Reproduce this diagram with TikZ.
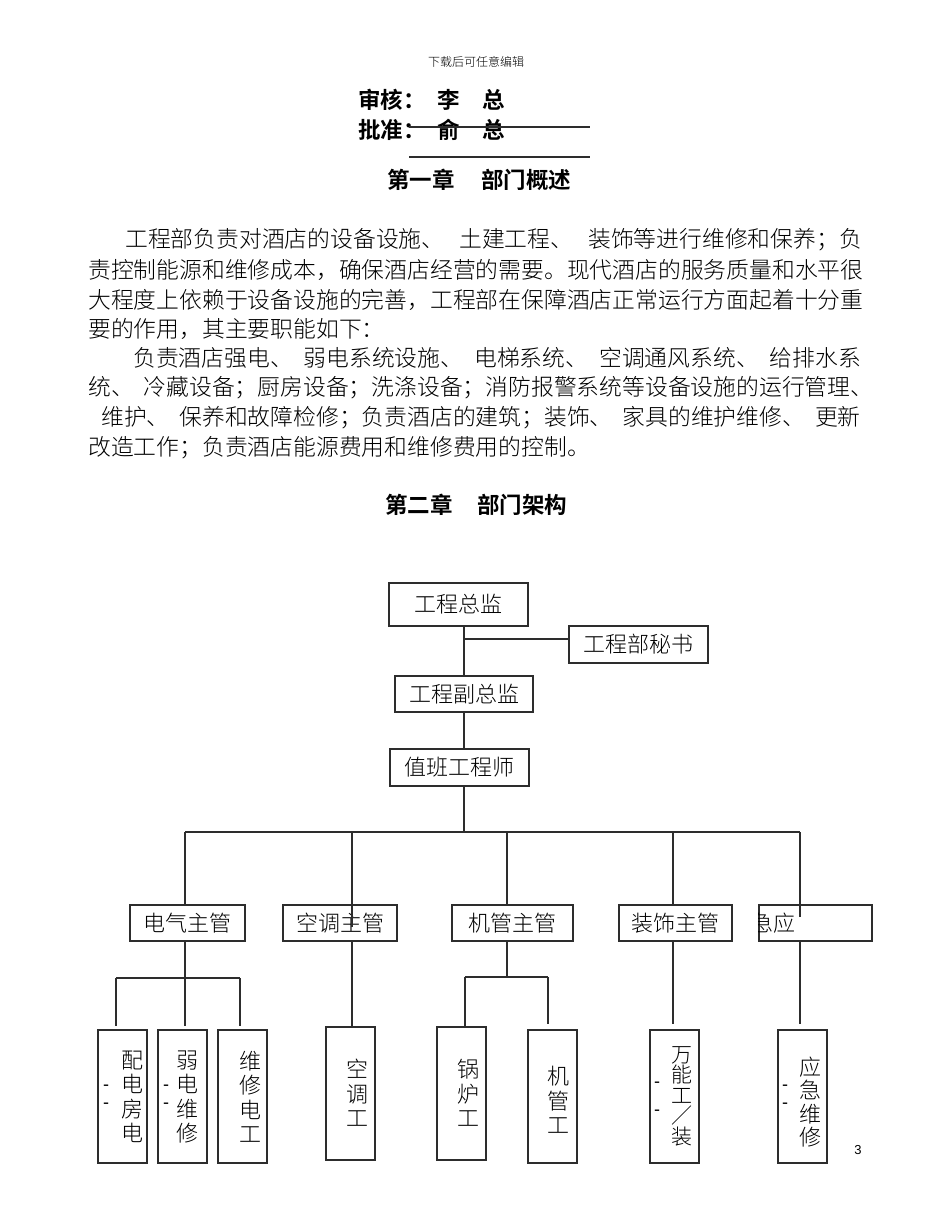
\documentclass[tikz,border=0pt]{standalone}
\usepackage{fontspec}
\setmainfont{Noto Sans CJK SC}[BoldFont={Noto Sans CJK SC Bold}]
\newfontfamily\lightcjk{Noto Sans CJK SC Light}
\newfontfamily\latinfont{Liberation Sans}
\usetikzlibrary{calc}
\newcommand\gapx[1]{\hspace*{#1pt}}
\definecolor{linec}{RGB}{45,45,45}
\begin{document}
\begin{tikzpicture}[x=1pt,y=-1pt,
  box/.style={draw=linec, line width=1.3pt, inner sep=0pt, font=\lightcjk\fontsize{22}{26}\selectfont},
  vbox/.style={draw=linec, line width=1.3pt, inner sep=0pt, minimum width=49pt, minimum height=133pt},
  vtext/.style={align=center, inner sep=0pt, font=\lightcjk\fontsize{22}{24.5}\selectfont},
  conn/.style={draw=linec, line width=1.3pt},
  body/.style={anchor=west, inner sep=0pt, font=\lightcjk\fontsize{22.8}{24}\selectfont},
  head/.style={inner sep=0pt, font=\bfseries\fontsize{22.5}{24}\selectfont},
  dashmark/.style={inner sep=0pt, font=\latinfont\fontsize{18}{18}\selectfont}]
\fill[white] (0,0) rectangle (950,1230);
\useasboundingbox (0,0) rectangle (950,1230);

% page header
\node[inner sep=0pt, font=\lightcjk\fontsize{12}{12}\selectfont] (hdr) at (476,62) {下载后可任意编辑};
\node[head, anchor=west] (sh1) at (358,100) {审核：};
\node[head] (sh2) at (449,100) {李};
\node[head] (sh3) at (494,100) {总};
\node[head, anchor=west] (pz1) at (358,130) {批准：};
\node[head] (pz2) at (449,130) {俞};
\node[head] (pz3) at (494,130) {总};
\coordinate (ls1) at (409,127); \coordinate (le1) at (590,127);
\coordinate (ls2) at (409,157); \coordinate (le2) at (590,157);
\draw[conn] (ls1) -- (le1);
\draw[conn] (ls2) -- (le2);
\node[head, anchor=west] (ch1a) at (387,180) {第一章};
\node[head, anchor=west] (ch1b) at (481,180) {部门概述};

% body text
\node[body] (p1) at (125,240) {工程部负责对酒店的设备设施、\gapx{15}土建工程、\gapx{15}装饰等进行维修和保养；负};
\node[body] (p2) at (88,270) {责控制能源和维修成本，确保酒店经营的需要。现代酒店的服务质量和水平很};
\node[body] (p3) at (88,300) {大程度上依赖于设备设施的完善，工程部在保障酒店正常运行方面起着十分重};
\node[body] (p4) at (88,329) {要的作用，其主要职能如下：};
\node[body] (p5) at (133,358) {负责酒店强电、\gapx{11}弱电系统设施、\gapx{11}电梯系统、\gapx{11}空调通风系统、\gapx{11}给排水系};
\node[body] (p6) at (88,388) {统、\gapx{10}冷藏设备；厨房设备；洗涤设备；消防报警系统等设备设施的运行管理、};
\node[body] (p7) at (101,418) {维护、\gapx{10}保养和故障检修；负责酒店的建筑；装饰、\gapx{10}家具的维护维修、\gapx{10}更新};
\node[body] (p8) at (88,448) {改造工作；负责酒店能源费用和维修费用的控制。};

\node[head, anchor=west] (ch2a) at (385,505) {第二章};
\node[head, anchor=west] (ch2b) at (477,505) {部门架构};

% org chart boxes
\node[box, minimum width=139pt, minimum height=43pt] (top) at (458.5,604.5) {工程总监};
\node[box, minimum width=139pt, minimum height=37pt] (sec) at (638.5,644.5) {工程部秘书};
\node[box, minimum width=138pt, minimum height=36pt] (vice) at (464,694) {工程副总监};
\node[box, minimum width=139pt, minimum height=37pt] (duty) at (459.5,767.5) {值班工程师};

\node[box, minimum width=115pt, minimum height=36pt] (m1) at (187.5,923) {电气主管};
\node[box, minimum width=114pt, minimum height=36pt] (m2) at (340,923) {空调主管};
\node[box, minimum width=121pt, minimum height=36pt] (m3) at (512.5,923) {机管主管};
\node[box, minimum width=113pt, minimum height=36pt] (m4) at (675.5,923) {装饰主管};
\node[box, minimum width=113pt, minimum height=36pt] (m5) at (815.5,923) {};
\begin{scope}
  \clip (m5.south west) rectangle (m5.north east);
  \node[inner sep=0pt, anchor=west, font=\lightcjk\fontsize{22}{26}\selectfont] (m5t) at (751,923) {急应};
\end{scope}

\node[vbox] (b1) at (122.5,1096.5) {};
\node[vbox] (b2) at (182.5,1096.5) {};
\node[vbox] (b3) at (242.5,1096.5) {};
\node[vbox] (b4) at (350.5,1093.5) {};
\node[vbox] (b5) at (461.5,1093.5) {};
\node[vbox] (b6) at (552.5,1096.5) {};
\node[vbox] (b7) at (674.5,1096.5) {};
\node[vbox] (b8) at (802.5,1096.5) {};

\node[vtext] (t1) at (132,1097) {配\\电\\房\\电};
\node[vtext] (t2) at (187,1097) {弱\\电\\维\\修};
\node[vtext] (t3) at (250,1097) {维\\修\\电\\工};
\node[vtext] (t4) at (357,1093) {空\\调\\工};
\node[vtext] (t5) at (468,1093) {锅\\炉\\工};
\node[vtext] (t6) at (558,1100) {机\\管\\工};
\node[vtext, font=\lightcjk\fontsize{21}{20.5}\selectfont] (t7) at (682,1096) {万\\能\\工\\／\\装};
\node[vtext, font=\lightcjk\fontsize{22}{23.3}\selectfont] (t8) at (810,1102) {应\\急\\维\\修};

\node[dashmark] (k1) at (106,1088) {-};
\node[dashmark] (k2) at (106,1106) {-};
\node[dashmark] (k3) at (166,1088) {-};
\node[dashmark] (k4) at (166,1106) {-};
\node[dashmark] (k5) at (657,1085) {-};
\node[dashmark] (k6) at (657,1113) {-};
\node[dashmark] (k7) at (785,1088) {-};
\node[dashmark] (k8) at (785,1106) {-};

\node[inner sep=0pt, font=\latinfont\fontsize{13}{13}\selectfont] (pg) at (858,1150) {3};

% connectors
\draw[conn] (vice.north |- top.south) -- (vice.north);
\coordinate (jsec) at (464,639);
\draw[conn] (jsec) -- (jsec -| sec.west);
\draw[conn] (vice.south) -- (vice.south |- duty.north);
\coordinate (bus) at (464,832);
\draw[conn] (duty.south -| bus) -- (bus);
\coordinate (c1) at (185,832);
\coordinate (c2) at (352,832);
\coordinate (c3) at (507,832);
\coordinate (c4) at (673,832);
\coordinate (c5) at (800,832);
\draw[conn] (c1) -- (c5);
\draw[conn] (c1) -- (c1 |- m1.north);
\draw[conn] (c2) -- ($(c2 |- m2.north)+(0,23)$);
\draw[conn] (c3) -- (c3 |- m3.north);
\draw[conn] (c4) -- (c4 |- m4.north);
\draw[conn] (c5) -- ($(c5 |- m5.north)+(0,13)$);

\coordinate (d1) at (185,978);
\coordinate (e1) at (116,978);
\coordinate (e3) at (240,978);
\draw[conn] (m1.south -| d1) -- (d1);
\draw[conn] (e1) -- (e3);
\draw[conn] (e1) -- ($(e1 |- b1.north)+(0,-3)$);
\draw[conn] (d1) -- ($(d1 |- b2.north)+(0,-3)$);
\draw[conn] (e3) -- ($(e3 |- b3.north)+(0,-3)$);

\draw[conn] (m2.south -| c2) -- (c2 |- b4.north);

\coordinate (d3) at (507,977);
\coordinate (f1) at (465,977);
\coordinate (f2) at (548,977);
\draw[conn] (m3.south -| d3) -- (d3);
\draw[conn] (f1) -- (f2);
\draw[conn] (f1) -- (f1 |- b5.north);
\draw[conn] (f2) -- ($(f2 |- b6.north)+(0,-5)$);

\draw[conn] (m4.south -| c4) -- ($(c4 |- b7.north)+(0,-5)$);
\draw[conn] (m5.south -| c5) -- ($(c5 |- b8.north)+(0,-5)$);
\end{tikzpicture}
\end{document}
